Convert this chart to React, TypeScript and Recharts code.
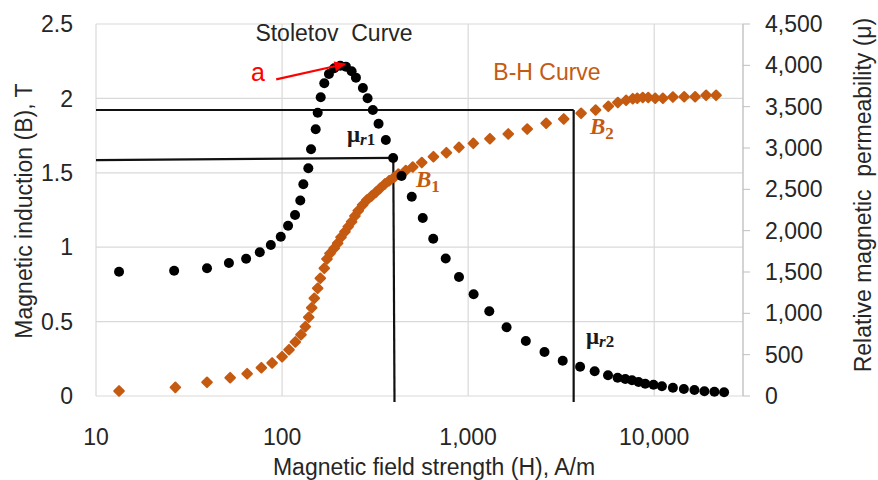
import { ScatterChart, Scatter, XAxis, YAxis, CartesianGrid, ReferenceLine } from 'recharts'

// Stoletov curve: relative permeability (right axis) vs H
const muH = [13.3, 26.3, 39.5, 51.8, 64.1, 75.9, 87, 98.4, 107.7, 117.4, 125.3, 130.1, 138.4, 143.1, 151.6, 155.4, 161.3, 168.6, 178.6, 190.7, 205.4, 220.4, 236.4, 249.4, 271.9, 288.1, 307.5, 330, 361.1, 395.2, 438.5, 497.7, 570.2, 649.2, 757.5, 892.8, 1070, 1299, 1609, 2042, 2572, 3223, 3996, 4786, 5645, 6357, 6991, 7594, 8237, 8948, 9913, 10997, 12600, 14430, 16450, 18610, 21060, 23740]
const muVal = [1504, 1516, 1545, 1609, 1661, 1738, 1827, 1927, 2060, 2190, 2365, 2561, 2754, 2984, 3226, 3427, 3613, 3783, 3895, 3964, 3996, 3984, 3928, 3851, 3726, 3601, 3460, 3294, 3097, 2879, 2661, 2411, 2153, 1903, 1663, 1440, 1230, 1025, 831, 665, 532, 427, 354, 299, 250, 221, 206, 190, 169, 149, 137, 117, 100, 85, 73, 57, 52, 45]

// B-H curve: induction (left axis) vs H
const bhH = [13.3, 26.7, 39.5, 52.6, 64.9, 77.4, 88.4, 100, 109, 117.8, 126.4, 133.4, 139.1, 144.3, 149, 155.4, 160.5, 168.6, 174.3, 180.9, 190.7, 198.9, 207.3, 217.7, 226.7, 236.4, 246.3, 256.6, 270.8, 285.6, 302.7, 319.2, 336.5, 356.7, 376.2, 400.1, 421.4, 462.2, 504, 563.3, 650.9, 764.1, 892.8, 1066, 1309, 1643, 2077, 2626, 3264, 4046, 4844, 5668, 6373, 7062, 7667, 8107, 8676, 9286, 10124, 11134, 12600, 14490, 16590, 19000, 21500]
const bhB = [0.034, 0.058, 0.092, 0.123, 0.15, 0.19, 0.222, 0.264, 0.311, 0.363, 0.412, 0.466, 0.529, 0.593, 0.657, 0.724, 0.791, 0.858, 0.921, 0.958, 0.993, 1.026, 1.067, 1.104, 1.138, 1.171, 1.21, 1.245, 1.284, 1.317, 1.344, 1.369, 1.396, 1.425, 1.447, 1.47, 1.492, 1.515, 1.539, 1.569, 1.608, 1.635, 1.671, 1.698, 1.729, 1.761, 1.794, 1.833, 1.862, 1.9, 1.922, 1.947, 1.972, 1.987, 1.998, 2.001, 2.006, 2.006, 2.001, 2.001, 2.009, 2.011, 2.011, 2.021, 2.021]

const xTicks = [10, 100, 1000, 10000]
const bTicks = [0, 0.5, 1, 1.5, 2, 2.5]
const muTicks = [0, 500, 1000, 1500, 2000, 2500, 3000, 3500, 4000, 4500]

// operating points B1 / B2 (H, B)
const op1 = { h: 396, b: 1.6 }
const op2 = { h: 3690, b: 1.922 }
// arrow "a" pointing to the permeability peak (H, mu)
const arrowFrom = { h: 93, mu: 3830 }
const arrowTo = { h: 222, mu: 4020 }

const muData = muH.map((h, i) => ({ h, v: muVal[i] }))
const bhData = bhH.map((h, i) => ({ h, v: bhB[i] }))

const FONT = '"Liberation Sans", Arial, sans-serif'
const SERIF = '"Liberation Serif", "Times New Roman", serif'
const ORANGE = '#C55A11'
const TEXT = '#262626'
const tick = { fontSize: 23, fill: TEXT, fontFamily: FONT }

const Dot = (p: any) => <circle cx={p.cx} cy={p.cy} r={5} fill="#000" />
const Diamond = (p: any) => (
  <polygon
    points={`${p.cx},${p.cy - 4.8} ${p.cx + 4.8},${p.cy} ${p.cx},${p.cy + 4.8} ${p.cx - 4.8},${p.cy}`}
    fill={ORANGE} stroke={ORANGE} strokeWidth={2} strokeLinejoin="round"
  />
)

const Arrow = (p: any) => {
  const { x1, y1, x2, y2 } = p
  const a = Math.atan2(y2 - y1, x2 - x1)
  const len = 12, w = 5
  const bx = x2 - len * Math.cos(a), by = y2 - len * Math.sin(a)
  const nx = -Math.sin(a) * w, ny = Math.cos(a) * w
  return (
    <g>
      <line x1={x1} y1={y1} x2={bx} y2={by} stroke="#FF0000" strokeWidth={2.2} />
      <polygon points={`${x2},${y2} ${bx + nx},${by + ny} ${bx - nx},${by - ny}`} fill="#FF0000" />
    </g>
  )
}

const lineStyle = { stroke: '#111', strokeWidth: 2.2 }

export default function App() {
  return (
    <div style={{ position: 'absolute', left: 0, top: 0, background: '#fff' }}>
      <ScatterChart width={878} height={480} margin={{ top: 24, right: 0, bottom: 0, left: 0 }}>
        <CartesianGrid yAxisId="B" stroke="#d9d9d9" strokeWidth={1.2} />
        <XAxis
          dataKey="h" type="number" scale="log" domain={[10, 30000]} allowDataOverflow
          ticks={xTicks} height={84} axisLine={false} tickLine={false} tickMargin={27}
          tick={tick} tickFormatter={(v: number) => v.toLocaleString('en-US')}
        />
        <YAxis
          yAxisId="B" dataKey="v" type="number" domain={[0, 2.5]} ticks={bTicks}
          width={96} axisLine={false} tickLine={false} tickMargin={17} tick={tick}
        />
        <YAxis
          yAxisId="mu" dataKey="v" type="number" orientation="right" domain={[0, 4500]} ticks={muTicks}
          width={135} axisLine={{ stroke: '#bfbfbf' }} tickLine={{ stroke: '#bfbfbf' }} tickSize={7} tickMargin={15}
          tick={{ ...tick, textAnchor: 'start' }} tickFormatter={(v: number) => v.toLocaleString('en-US')}
        />

        <ReferenceLine yAxisId="B" ifOverflow="visible" segment={[{ x: 10, y: op1.b - 0.015 }, { x: op1.h, y: op1.b }]} {...lineStyle} />
        <ReferenceLine yAxisId="B" ifOverflow="visible" segment={[{ x: op1.h, y: op1.b }, { x: op1.h + 6, y: -0.04 }]} {...lineStyle} />
        <ReferenceLine yAxisId="B" ifOverflow="visible" segment={[{ x: 10, y: op2.b }, { x: op2.h, y: op2.b }]} {...lineStyle} />
        <ReferenceLine yAxisId="B" ifOverflow="visible" segment={[{ x: op2.h, y: op2.b }, { x: op2.h, y: -0.04 }]} {...lineStyle} />

        <Scatter yAxisId="B" data={bhData} shape={Diamond} isAnimationActive={false} />
        <Scatter yAxisId="mu" data={muData} shape={Dot} isAnimationActive={false} />

        <ReferenceLine
          yAxisId="mu" ifOverflow="visible" zIndex={2000}
          segment={[{ x: arrowFrom.h, y: arrowFrom.mu }, { x: arrowTo.h, y: arrowTo.mu }]}
          shape={Arrow}
        />

        {/* axis titles */}
        <text x={24} y={211} transform="rotate(-90 24 211)" textAnchor="middle" dominantBaseline="central"
          fontSize={23} fill={TEXT} fontFamily={FONT}>Magnetic induction (B), T</text>
        <text x={863} y={195} transform="rotate(-90 863 195)" textAnchor="middle" dominantBaseline="central"
          fontSize={23} fill={TEXT} fontFamily={FONT} style={{ whiteSpace: 'pre' }}>Relative magnetic  permeability (μ)</text>
        <text x={434} y={475} textAnchor="middle" fontSize={23} fill={TEXT} fontFamily={FONT}>
          Magnetic field strength (H), A/m
        </text>

        {/* annotations */}
        <text x={334} y={41} textAnchor="middle" fontSize={23} fill={TEXT} fontFamily={FONT} style={{ whiteSpace: 'pre' }}>
          Stoletov  Curve
        </text>
        <text x={547} y={80} textAnchor="middle" fontSize={23} fill={ORANGE} fontFamily={FONT}>B-H Curve</text>
        <text x={258} y={81} textAnchor="middle" fontSize={25} fill="#FF0000" fontFamily={FONT}>a</text>

        <text x={347} y={142} fontSize={23} fontWeight="bold" fill="#1a1a1a" fontFamily={SERIF}>
          μ<tspan fontStyle="italic" fontSize={17} dy={3}>r</tspan><tspan fontSize={17}>1</tspan>
        </text>
        <text x={586} y={344} fontSize={23} fontWeight="bold" fill="#1a1a1a" fontFamily={SERIF}>
          μ<tspan fontStyle="italic" fontSize={17} dy={3}>r</tspan><tspan fontSize={17}>2</tspan>
        </text>
        <text x={416} y={187} fontSize={23} fontWeight="bold" fontStyle="italic" fill={ORANGE} fontFamily={SERIF}>
          B<tspan fontStyle="normal" fontSize={17} dy={5}>1</tspan>
        </text>
        <text x={590} y={134} fontSize={23} fontWeight="bold" fontStyle="italic" fill={ORANGE} fontFamily={SERIF}>
          B<tspan fontStyle="normal" fontSize={17} dy={5}>2</tspan>
        </text>
      </ScatterChart>
    </div>
  )
}
